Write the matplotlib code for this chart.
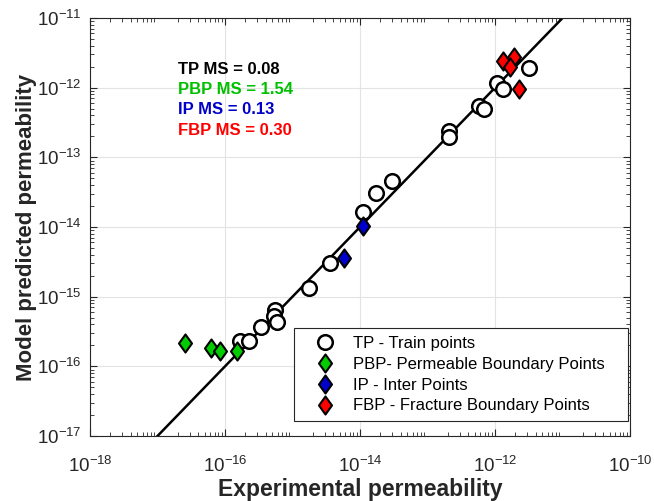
import numpy as np
import matplotlib
matplotlib.use('Agg')
import matplotlib.pyplot as plt
from matplotlib.ticker import LogLocator, NullFormatter
from matplotlib.path import Path

plt.rcParams['font.family'] = ['Liberation Sans', 'DejaVu Sans']
plt.rcParams['mathtext.fontset'] = 'custom'
plt.rcParams['mathtext.rm'] = 'Liberation Sans'
plt.rcParams['mathtext.it'] = 'Liberation Sans'

# TP - train points (log10 values)
tp_x = [-15.78, -15.65, -15.47, -15.26, -15.28, -15.23, -14.76, -14.44, -13.96, -13.76,
        -13.53, -12.68, -12.68, -12.24, -12.16, -11.97, -11.88, -11.50]
tp_y = [-15.64, -15.64, -15.44, -15.19, -15.27, -15.37, -14.88, -14.52, -13.79, -13.51,
        -13.34, -12.62, -12.71, -12.26, -12.31, -11.93, -12.02, -11.72]
# PBP - permeable boundary points
pbp_x = [-16.59, -16.20, -16.07, -15.82]
pbp_y = [-15.66, -15.73, -15.78, -15.78]
# IP - inter points
ip_x = [-13.95, -14.24]
ip_y = [-13.98, -14.45]
# FBP - fracture boundary points
fbp_x = [-11.88, -11.72, -11.78, -11.65]
fbp_y = [-11.61, -11.56, -11.71, -12.02]

ms_labels = ['TP MS = 0.08', 'PBP MS = 1.54', 'IP MS = 0.13', 'FBP MS = 0.30']
ms_colors = ['black', '#00c000', '#0000c8', '#ff0000']

# matlab-like diamond (a bit wider than 'd')
diamond = Path([(0, 1), (0.72, 0), (0, -1), (-0.72, 0), (0, 1)],
               [Path.MOVETO, Path.LINETO, Path.LINETO, Path.LINETO, Path.CLOSEPOLY])

fig = plt.figure(figsize=(6.54, 5.01), dpi=100)
ax = fig.add_axes([0.1376, 0.1297, 0.8257, 0.8343])

# 1:1 line
ax.plot([1e-18, 1e-10], [1e-18, 1e-10], color='black', lw=1.8, zorder=2)

ax.plot(10**np.array(tp_x), 10**np.array(tp_y), 'o', ms=10.5, mfc='white', mec='black', mew=1.8,
        label='TP - Train points', zorder=3)
ax.plot(10**np.array(pbp_x), 10**np.array(pbp_y), marker=diamond, ls='none', ms=13,
        mfc='#00cc00', mec='black', mew=1.5, label='PBP- Permeable Boundary Points', zorder=4)
ax.plot(10**np.array(ip_x), 10**np.array(ip_y), marker=diamond, ls='none', ms=13,
        mfc='#0000cc', mec='black', mew=1.5, label='IP - Inter Points', zorder=4)
ax.plot(10**np.array(fbp_x), 10**np.array(fbp_y), marker=diamond, ls='none', ms=13,
        mfc='#ff0000', mec='black', mew=1.5, label='FBP - Fracture Boundary Points', zorder=4)

ax.set_xscale('log')
ax.set_yscale('log')
ax.set_xlim(1e-18, 1e-10)
ax.set_ylim(1e-17, 1e-11)
ax.set_xticks([1e-18, 1e-16, 1e-14, 1e-12, 1e-10])
ax.set_yticks([10.0**k for k in range(-17, -10)])
ax.xaxis.set_minor_locator(LogLocator(base=10, subs=np.arange(2, 10), numticks=20))
ax.yaxis.set_minor_locator(LogLocator(base=10, subs=np.arange(2, 10), numticks=20))
ax.xaxis.set_minor_formatter(NullFormatter())
ax.yaxis.set_minor_formatter(NullFormatter())

ax.grid(True, which='major', color='#e3e3e3', lw=0.8)
ax.set_axisbelow(True)
ax.tick_params(which='both', direction='in', top=True, right=True, colors='#262626',
               labelsize=13.5, labelcolor='#262626')
ax.tick_params(which='major', length=5)
ax.tick_params(which='minor', length=3)
ax.tick_params(axis='x', which='major', pad=14)
ax.tick_params(axis='y', which='major', pad=6)
for s in ax.spines.values():
    s.set_color('#262626')

ax.set_xlabel('Experimental permeability', fontsize=16.5, fontweight='bold', color='#262626',
              labelpad=2)
ax.set_ylabel('Model predicted permeability', fontsize=16, fontweight='bold', color='#262626',
              labelpad=0)

for i in range(4):
    ax.text(0.163, 0.876 - i * 0.048, ms_labels[i], transform=ax.transAxes, color=ms_colors[i],
            fontsize=12, fontweight='bold', va='center')

leg = ax.legend(loc='lower left', bbox_to_anchor=(0.3778, 0.036, 0.6185, 0.2), mode='expand',
                borderaxespad=0, fontsize=12, fancybox=False, framealpha=1,
                edgecolor='#262626', handlelength=2.8, handletextpad=0.3,
                labelspacing=0.35, borderpad=0.45)
leg.get_frame().set_linewidth(0.8)

fig.savefig('out.png', dpi=100)
